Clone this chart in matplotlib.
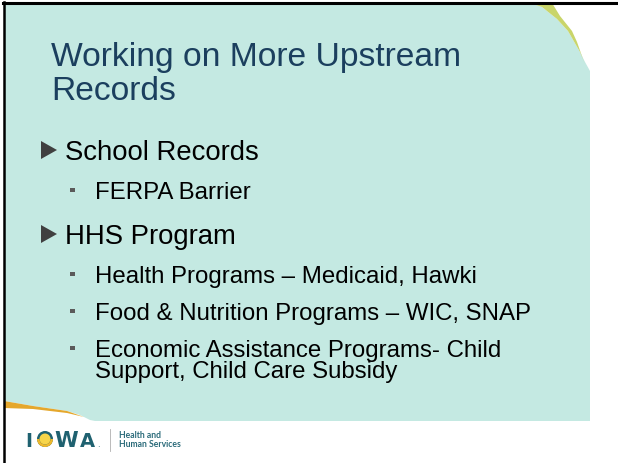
import matplotlib.pyplot as plt
from matplotlib.patches import Polygon, Rectangle, Wedge, Circle

# slide content
title_lines = ["Working on More Upstream", "Records"]
level1 = ["School Records", "HHS Program"]
level2_school = ["FERPA Barrier"]
level2_hhs = ["Health Programs \u2013 Medicaid, Hawki",
              "Food & Nutrition Programs \u2013 WIC, SNAP",
              "Economic Assistance Programs- Child\nSupport, Child Care Subsidy"]

teal = "#c4e9e2"
navy = "#1b3f5e"
logo_teal = "#1f6170"
FONT = "Liberation Sans"

fig = plt.figure(figsize=(6.18, 4.64), dpi=100)
ax = fig.add_axes([0, 0, 1, 1])
ax.set_xlim(0, 618)
ax.set_ylim(464, 0)
ax.axis("off")

# background shape
bg = [(4, 4), (530, 4), (542, 8), (557, 20), (568, 32), (580, 53), (585, 63),
      (590, 72), (590, 422), (95, 422), (90, 421), (80, 416), (67, 412),
      (33, 407), (4, 402)]
ax.add_patch(Polygon(bg, closed=True, fc=teal, ec="none"))
# yellow-green sliver top right
ax.add_patch(Polygon([(530, 4), (552, 4), (560, 17), (572, 32), (577, 43),
                      (583, 60), (585, 65), (580, 53), (568, 32), (557, 20),
                      (542, 8)], closed=True, fc="#c9d56a", ec="none"))
# orange sliver bottom left
ax.add_patch(Polygon([(4, 402), (33, 407), (67, 412), (84, 418), (67, 414),
                      (33, 410), (4, 409)], closed=True, fc="#e5a72c", ec="none"))

# frame
ax.plot([4, 4], [3, 464], color="black", lw=1.8)
ax.plot([3, 618], [4, 4], color="black", lw=2.2)

# title
for i, line in enumerate(title_lines):
    ax.text(51, 66 + i * 34, line, fontsize=24.2, color=navy,
            family=FONT, va="baseline")

def tri(y):
    ax.add_patch(Polygon([(41, y - 18), (41, y), (57, y - 9)], closed=True,
                         fc="#404040", ec="none"))

def square(y):
    ax.add_patch(Rectangle((70, y - 10.5), 4.5, 4.5, fc="#5a5a5a", ec="none"))

ax.text(65, 160, level1[0], fontsize=19.8, family=FONT, va="baseline")
tri(160)
ax.text(95, 199, level2_school[0], fontsize=17.3, family=FONT, va="baseline")
square(199)

ax.text(65, 244, level1[1], fontsize=19.8, family=FONT, va="baseline")
tri(244)
for i, item in enumerate(level2_hhs):
    yb = 283 + i * 37
    lines = item.split("\n")
    for j, ln in enumerate(lines):
        ax.text(95, yb + j * 21, ln, fontsize=17.3, family=FONT,
                va="baseline")
    square(yb)

# logo
ax.text(25, 447, "I", fontsize=13.5, fontweight="bold", color=logo_teal,
        family="DejaVu Sans", va="baseline")
ax.add_patch(Circle((45, 440), 8, fc=logo_teal, ec="none"))
ax.add_patch(Circle((45, 440), 5.5, fc="#f7d54a", ec="none"))
ax.add_patch(Wedge((45, 440), 8, 0, 180, width=2.5, fc="#f0b92a", ec="none"))
ax.text(54, 447, "W", fontsize=15.5, fontweight="bold", color=logo_teal,
        family="DejaVu Sans", va="baseline")
ax.text(80, 447, "A", fontsize=14, fontweight="bold", color=logo_teal,
        family="DejaVu Sans", va="baseline")
ax.text(97, 447, ".", fontsize=6, color=logo_teal, family="DejaVu Sans", va="baseline")
ax.plot([110, 110], [430, 452], color="#b0b0b0", lw=0.6)
ax.text(119, 438, "Health and", fontsize=6.2, fontweight="bold", color="#2b6b7a",
        family="Lato", va="baseline")
ax.text(119, 447, "Human Services", fontsize=6.2, fontweight="bold", color="#2b6b7a",
        family="Lato", va="baseline")

fig.savefig("out.png", dpi=100)
